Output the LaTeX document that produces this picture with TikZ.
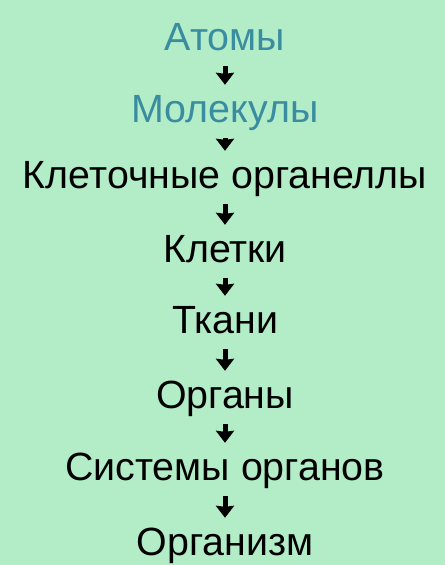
\documentclass[tikz,border=0pt]{standalone}
\usepackage{fontspec}
\setmainfont{Liberation Sans}
\usetikzlibrary{arrows.meta}
\definecolor{bgmint}{RGB}{179,237,200}
\definecolor{tealtext}{RGB}{58,140,160}

\begin{document}
\begin{tikzpicture}[
    level/.style={inner sep=0pt, text height=28bp, text depth=8bp, font=\fontsize{39.5}{42}\selectfont, anchor=base},
    levelarrow/.style={line width=5bp, -{Stealth[length=12bp, width=18bp, inset=1bp]}, shorten <=8bp, shorten >=9bp}]
                  % Background
                  \fill[bgmint] (0,0) rectangle (445bp,-565bp);

                  % Nodes
                  \foreach \name/\y/\col [count=\i] in {Атомы/50/tealtext, Молекулы/122/tealtext, Клеточные органеллы/188/black, Клетки/262/black, Ткани/333/black, Органы/408/black, Системы органов/480/black, Организм/555/black}
                  \node[level, text=\col] (lvl\i) at (225bp,-\y bp) {\name};

                  % Arrows
                  \foreach \i [evaluate=\i as \j using int(\i+1)] in {1,...,7}
                  \draw[levelarrow] (lvl\i.south) -- (lvl\j.north);
              \end{tikzpicture}
\end{document}
